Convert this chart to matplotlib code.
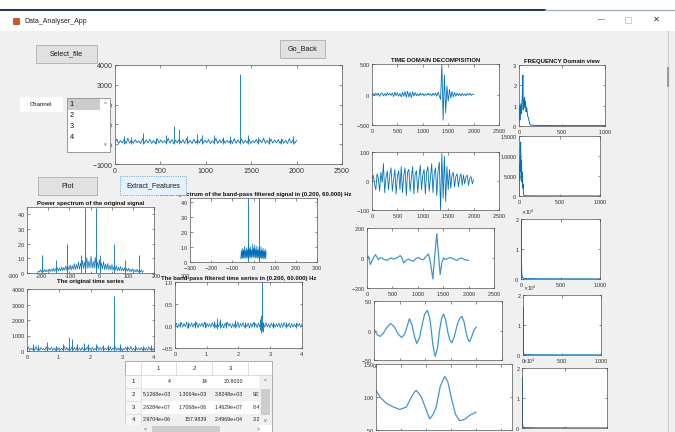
import numpy as np
import matplotlib
matplotlib.use('Agg')
import matplotlib.pyplot as plt
from matplotlib.patches import Rectangle

W, H = 675, 432
BLUE = '#0072BD'
LIGHT = '#3f97d1'

# ---------------- data ----------------
# channel 1 raw signal (2000 samples, 500 Hz): noise band edges every 40 samples + spikes
raw_low = [60, 40, 70, 30, 55, 45, 80, 35, 50, 65, 40, 30, 60, 75, 45, 50, 35, 70, 55, 40,
           65, 30, 50, 60, 45, 70, 35, 55, 40, 60, 50, 75, 30, 45, 65, 40, 55, 35, 60, 50,
           70, 45, 30, 55, 65, 40, 50, 35, 60, 45]
raw_high = [260, 180, 240, 300, 200, 230, 170, 280, 210, 250, 190, 270, 220, 180, 300, 240, 200, 260, 230, 280,
            190, 250, 210, 270, 200, 240, 180, 300, 220, 260, 190, 230, 280, 210, 250, 200, 270, 180, 240, 220,
            300, 190, 260, 210, 230, 250, 200, 280, 220, 190]
raw_spike_idx = [95, 180, 310, 455, 560, 655, 705, 790, 905, 960, 1085, 1190, 1270, 1375, 1460, 1580, 1700, 1830, 1955]
raw_spike_val = [420, 380, 560, 330, 450, 920, 760, 420, 520, 480, 450, 380, 400, 3550, 460, 350, 380, 330, 410]
fs_hz = 500

# power spectrum of the original signal, -250..250 Hz
spec_high = [1.5, 2.2, 1.8, 2.5, 2.0, 2.8, 2.4, 3.2, 2.9, 3.6, 3.3, 4.2, 3.8, 4.8, 4.4, 5.6, 5.0, 6.4, 5.8, 7.5,
             6.6, 8.6, 7.4, 10.5, 8.2, 11.5, 8.0, 10.8, 7.6, 9.0, 6.8, 7.8, 6.0, 6.6, 5.2, 5.8, 4.5, 5.0, 4.0, 4.4,
             3.4, 3.7, 3.0, 3.3, 2.5, 2.9, 2.1, 2.6, 1.9, 2.3, 1.5]
spec_low = [0.3, 0.6, 0.5, 0.8, 0.7, 1.0, 0.9, 1.2, 1.1, 1.4, 1.3, 1.6, 1.5, 1.9, 1.7, 2.1, 2.0, 2.4, 2.2, 2.7,
            2.5, 3.0, 2.8, 3.3, 3.0, 3.5, 3.1, 3.3, 2.8, 3.0, 2.6, 2.7, 2.3, 2.4, 2.0, 2.1, 1.8, 1.9, 1.5, 1.6,
            1.3, 1.4, 1.1, 1.2, 0.9, 1.0, 0.7, 0.8, 0.5, 0.6, 0.3]
spec_spike_f = [-227, -165, -111, -43, -25, 25, 43, 111, 165, 227]
spec_spike_p = [12, 9, 20, 12, 44, 44, 12, 20, 9, 12]

# power spectrum of the band-pass filtered signal, -60..60 Hz
bps_high = [7.5, 9.0, 8.2, 10.5, 7.8, 9.6, 8.4, 11.8, 9.0, 10.2, 8.0, 12.2, 9.4, 11.5, 8.6, 10.8, 8.2, 9.8,
            7.6, 10.4, 8.0, 9.2, 7.4, 8.8, 7.0]
bps_low = [2.0, 2.6, 2.2, 2.8, 2.4, 3.0, 2.5, 3.2, 2.7, 3.1, 2.6, 3.4, 2.9, 3.3, 2.7, 3.0, 2.5, 3.1,
           2.4, 2.9, 2.3, 2.7, 2.1, 2.5, 2.0]
bps_spike_f = [-25, 25]
bps_spike_p = [43, 43]

# band-pass filtered time series (0..4 s)
bpt_low = [-0.02, -0.04, -0.01, -0.03, -0.02, -0.05, -0.01, -0.03, -0.02, -0.04, -0.01, -0.03, -0.05, -0.02,
           -0.03, -0.01, -0.04, -0.02, -0.03, -0.05, -0.02, -0.01, -0.04, -0.03, -0.02, -0.04, -0.01, -0.03,
           -0.02, -0.05, -0.03, -0.01, -0.04, -0.02, -0.06, -0.03, -0.02, -0.04, -0.01, -0.03, -0.02, -0.04,
           -0.03, -0.01, -0.02, -0.04, -0.03, -0.02, -0.01, -0.03]
bpt_high = [0.07, 0.05, 0.08, 0.06, 0.09, 0.05, 0.07, 0.06, 0.08, 0.05, 0.07, 0.09, 0.06, 0.05, 0.08, 0.07,
            0.06, 0.09, 0.05, 0.07, 0.08, 0.06, 0.05, 0.07, 0.09, 0.06, 0.08, 0.05, 0.07, 0.06, 0.08, 0.05,
            0.07, 0.09, 0.06, 0.08, 0.05, 0.07, 0.06, 0.05, 0.07, 0.06, 0.08, 0.05, 0.07, 0.06, 0.05, 0.07,
            0.06, 0.05]
bpt_spike_t = [0.15, 0.42, 0.62, 0.95, 1.22, 1.33, 1.42, 1.62, 1.9, 2.2, 2.5, 2.68, 2.72, 2.75, 2.78, 3.1, 3.5, 3.8]
bpt_spike_hi = [0.1, 0.08, 0.12, 0.09, 0.11, 0.19, 0.15, 0.1, 0.13, 0.1, 0.09, 0.15, 0.26, 1.0, 0.1, 0.09, 0.08, 0.07]
bpt_spike_lo = [-0.03, -0.04, -0.05, -0.03, -0.04, -0.06, -0.05, -0.04, -0.05, -0.04, -0.03, -0.1, -0.16, -0.12,
                -0.14, -0.05, -0.04, -0.04]

# time domain decomposition levels (samples 0..2000)
d1_vals = [0, 15, -20, 25, -15, 20, -30, 10, 25, -20, 15, -25, 30, -10, 20, -15, 25, -35, 40, -20,
           30, -25, 15, -40, 35, -30, 50, -45, 55, -40, 35, -50, 45, -25, 30, -20, 15, -25, 20, -10,
           15, -20, 10, -15, 20, -10, 15, -25, 20, -15, 25, -30, 40, -20, -80, 500, -420, 320, -300, 140,
           -110, 80, -60, 50, -40, 35, -30, 25, -20, 15, -25, 20, -15, 10, -20, 15, -10, 20, -15, 10, 0]
d2_vals = [0, 20, -10, -30, 25, 10, -35, 30, -5, 60, -40, 10, 35, -30, 20, 45, -35, 5, 40, -45,
           15, 35, -30, 50, -40, 20, 45, -50, 30, 40, -35, 10, 50, -45, 25, 35, -40, 15, 55, -30,
           20, 40, -45, 30, 50, -35, 10, 60, -40, 25, 45, -50, 35, 65, -100, 95, -60, 85, -70, 50,
           -30, 40, -25, 20, 30, -20, 15, 25, -20, 10, 25, -15, 20, -10, 15, 20, -15, 10, 15, -10, 5]
d3_t = [0, 30, 65, 110, 164, 200, 229, 260, 295, 340, 393, 440, 480, 524, 570, 610, 654, 690, 720, 770,
        818, 860, 916, 960, 1014, 1060, 1113, 1160, 1211, 1250, 1296, 1335, 1374, 1405, 1440, 1475, 1505,
        1540, 1571, 1620, 1669, 1720, 1767, 1815, 1865, 1930, 1996]
d3_v = [5, 12, -44, -10, 22, 5, -11, 2, 0, -10, -16, -5, 0, -7, -2, 6, 16, 0, -33, -15,
        -7, -15, -22, -5, 4, -8, -11, 10, 27, -30, -140, 20, 162, 30, -111, -30, 0,
        -10, -7, 2, 0, -8, -16, -5, 0, -12, -16]
d4_t = [0, 60, 117, 180, 250, 326, 400, 470, 542, 600, 650, 692, 740, 790, 836, 890, 940, 990, 1044, 1090,
        1120, 1150, 1195, 1240, 1280, 1320, 1358, 1400, 1440, 1480, 1521, 1570, 1620, 1670, 1717, 1760,
        1800, 1835, 1867, 1910, 1950, 1997]
d4_v = [2, -7, -10, -5, 5, 12, 6, -6, -12, -6, 8, 20, 10, -10, -22, -12, 10, 28, 34, 20,
        0, -25, -44, -30, 0, 20, 28, 18, -2, -16, -21, -10, 8, 20, 24, 14,
        -4, -15, -19, -10, 0, 6]
d5_t = [0, 80, 212, 344, 477, 609, 709, 775, 808, 907, 1007, 1073, 1139, 1205, 1285, 1371, 1437, 1503,
        1589, 1669, 1768, 1868, 2000]
d5_v = [110, 100, 90, 85, 81, 85, 100, 108, 110, 100, 80, 67, 73, 85, 116, 131, 123, 100,
        74, 64, 66, 72, 77]

# frequency domain views
f1_f = [0, 8, 15, 22, 30, 38, 45, 50, 55, 60, 65, 70, 75, 82, 90, 100, 110, 120, 130, 150, 200, 400, 600, 800, 1000]
f1_a = [0.2, 1.0, 0.3, 1.1, 0.6, 1.5, 2.5, 0.8, 1.3, 1.0, 1.4, 0.9, 1.2, 0.7, 0.9, 0.5, 0.4, 0.2, 0.05, 0.04,
        0.03, 0.02, 0.02, 0.02, 0.02]
f2_f = [0, 5, 10, 15, 20, 25, 30, 35, 40, 45, 50, 55, 60, 80, 150, 300, 500, 700, 1000]
f2_a = [500, 8000, 4000, 12000, 13500, 6000, 9000, 3500, 6000, 2000, 3000, 600, 150, 60, 40, 30, 20, 20, 20]
f3_f = [0, 3, 6, 10, 20, 50, 200, 500, 1000]
f3_a = [0, 20000, 6000, 1500, 400, 150, 80, 50, 40]
f4_f = [0, 1, 3, 6, 12, 30, 200, 1000]
f4_a = [0, 16000, 2500, 900, 300, 120, 60, 40]
f5_f = [0, 0.5, 3, 6, 12, 30, 200, 1000]
f5_a = [0, 17000, 2000, 1400, 300, 150, 60, 40]

# feature table
table_cols = ['1', '2', '3', '4']
table_rows = ['1', '2', '3', '4']
table_cells = [['4', '14', '30.8000', ''],
               ['5.1268e+03', '1.3064e+03', '3.8248e+03', '921.5000'],
               ['2.6284e+07', '1.7068e+06', '1.4629e+07', '8.4966e+06'],
               ['2.9704e+06', '157.9839', '2.4969e+04', '3.2421e+04']]
channels = ['1', '2', '3', '4']

# ---------------- figure ----------------
plt.rcParams['font.family'] = ['Liberation Sans', 'DejaVu Sans']
plt.rcParams['axes.unicode_minus'] = False
plt.rcParams['axes.formatter.use_mathtext'] = True

fig = plt.figure(figsize=(W / 100, H / 100), dpi=100, facecolor='#f0f0f0')

bg = fig.add_axes([0, 0, 1, 1], zorder=-10)
bg.set_xlim(0, W)
bg.set_ylim(H, 0)
bg.axis('off')
bg.add_patch(Rectangle((0, 0), W, 31, fc='white', ec='none'))
bg.plot([0, 545], [10, 10], color='#1d3557', lw=1.4)
bg.plot([545, 675], [10, 10], color='#9fb0c2', lw=1.0)


def px_axes(x0, y0, x1, y1):
    ax = fig.add_axes([x0 / W, 1 - y1 / H, (x1 - x0) / W, (y1 - y0) / H])
    ax.tick_params(direction='in', top=True, right=True, length=1.8, width=0.4,
                   labelsize=4, pad=1.2, colors='#333333')
    for s in ax.spines.values():
        s.set_linewidth(0.5)
        s.set_color('#555555')
    return ax


def band(ax, x0, x1, low, high, color=BLUE, lw=0.5):
    xs = np.linspace(x0, x1, 2 * len(low))
    ys = np.column_stack([low, high]).ravel()
    ax.plot(xs, ys, color=color, lw=lw)


def title(ax, text, fs=4.3, pad=1.5):
    ax.set_title(text, fontsize=fs, fontweight='bold', pad=pad, color='#111111')


# main channel plot
ax = px_axes(115, 65, 342, 164)
band(ax, 0, 2000, raw_low, raw_high, lw=0.6)
ax.vlines(raw_spike_idx, 0, raw_spike_val, color=BLUE, lw=0.6)
ax.set_xlim(0, 2500)
ax.set_ylim(-1000, 4000)
ax.set_xticks(range(0, 2501, 500))
ax.set_yticks(range(-1000, 4001, 1000))
ax.tick_params(labelsize=5, length=2.5, pad=1.5)

# power spectrum of the original signal
ax = px_axes(27, 207, 154, 273)
band(ax, -250, 250, spec_low, spec_high)
ax.plot([-250, 250], [0.2, 0.2], color=BLUE, lw=0.5)
ax.vlines(spec_spike_f, 0, spec_spike_p, color=BLUE, lw=0.6)
ax.set_xlim(-300, 300)
ax.set_ylim(0, 45)
ax.set_yticks(range(0, 41, 10))
ax.set_xticks(range(-300, 301, 100))
ax.set_xticklabels([])
title(ax, 'Power spectrum of the original signal')

# power spectrum of the band-pass filtered signal
ax = px_axes(190, 198, 317, 262)
band(ax, -60, 60, bps_low, bps_high)
ax.plot([-250, 250], [0.15, 0.15], color=BLUE, lw=0.4, alpha=0.6)
ax.vlines(bps_spike_f, 0, bps_spike_p, color=BLUE, lw=0.6)
ax.set_xlim(-300, 300)
ax.set_ylim(0, 43)
ax.set_yticks(range(0, 41, 10))
ax.set_xticks(range(-300, 301, 100))
title(ax, 'Power spectrum of the band-pass filtered signal in (0.200, 60.000) Hz')

# original time series
ax = px_axes(27, 289, 154, 351)
band(ax, 0, 2000 / fs_hz, raw_low, raw_high)
ax.vlines(np.array(raw_spike_idx) / fs_hz, 0, raw_spike_val, color=BLUE, lw=0.6)
ax.set_xlim(0, 4)
ax.set_ylim(0, 4000)
ax.set_yticks(range(0, 4001, 1000))
title(ax, 'The original time series', pad=4.5)

# band-pass filtered time series
ax = px_axes(175, 282, 302, 348)
band(ax, 0, 4, bpt_low, bpt_high)
ax.vlines(bpt_spike_t, bpt_spike_lo, bpt_spike_hi, color=BLUE, lw=0.6)
ax.set_xlim(0, 4)
ax.set_ylim(-0.5, 1)
ax.set_yticks([-0.5, 0, 0.5, 1])
title(ax, 'The band-pass filtered time series in (0.200, 60.000) Hz')

# time domain decomposition
d_boxes = [(372, 64, 499, 125), (372, 152, 499, 210), (367, 228, 494, 288),
           (374, 301, 502, 360), (376, 364, 512, 430)]
d_series = [(np.linspace(0, 2000, len(d1_vals)), d1_vals), (np.linspace(0, 2000, len(d2_vals)), d2_vals),
            (d3_t, d3_v), (d4_t, d4_v), (d5_t, d5_v)]
d_ylims = [(-500, 500), (-100, 100), (-200, 200), (-50, 50), (50, 150)]
d_xmax = [2500, 2500, 2500, 2500, 2720]
for i, (box, (t, v), yl, xm) in enumerate(zip(d_boxes, d_series, d_ylims, d_xmax)):
    ax = px_axes(*box)
    ax.plot(t, v, color=BLUE if i < 2 else LIGHT, lw=0.6 if i < 2 else 0.9)
    ax.set_xlim(0, xm)
    ax.set_ylim(*yl)
    ax.set_xticks(range(0, 2501, 500))
    ax.set_yticks([yl[0], (yl[0] + yl[1]) / 2, yl[1]])
    if i == 0:
        title(ax, 'TIME DOMAIN DECOMPISITION')

# frequency domain views
f_boxes = [(519, 65, 605, 126), (519, 136, 600, 196), (521, 219, 600, 279),
           (523, 295, 601, 355), (522, 368, 607, 428)]
f_series = [(f1_f, f1_a), (f2_f, f2_a), (f3_f, f3_a), (f4_f, f4_a), (f5_f, f5_a)]
f_ylims = [3, 15000, 20000, 20000, 20000]
for i, (box, (f, a), ym) in enumerate(zip(f_boxes, f_series, f_ylims)):
    ax = px_axes(*box)
    ax.plot(f, a, color=BLUE, lw=0.7)
    ax.set_xlim(0, 1000)
    ax.set_ylim(0, ym)
    ax.set_xticks([0, 500, 1000])
    if i == 0:
        ax.set_yticks([0, 1, 2, 3])
        title(ax, 'FREQUENCY Domain view')
    elif i == 1:
        ax.set_yticks([0, 5000, 10000, 15000])
    else:
        ax.set_yticks([0, 10000, 20000])
        ax.ticklabel_format(axis='y', style='sci', scilimits=(0, 0))
        ax.yaxis.get_offset_text().set_fontsize(3.6)

# ---------------- GUI controls on top ----------------
ov = fig.add_axes([0, 0, 1, 1], zorder=10)
ov.set_xlim(0, W)
ov.set_ylim(H, 0)
ov.axis('off')
ov.patch.set_alpha(0)


def button(x0, y0, x1, y1, label, fc='#e1e1e1', ec='#adadad', ls='-', fs=5.2):
    ov.add_patch(Rectangle((x0, y0), x1 - x0, y1 - y0, fc=fc, ec=ec, lw=0.6, ls=ls))
    ov.text((x0 + x1) / 2, (y0 + y1) / 2, label, ha='center', va='center', fontsize=fs, color='#1a1a1a')


# window title bar
ov.add_patch(Rectangle((13, 18), 6, 6, fc='#d95319', ec='#8a2b0a', lw=0.4))
ov.text(24, 21.5, 'Data_Analyser_App', fontsize=5, va='center', color='#222222')
ov.text(602, 20, '\u2014', fontsize=5, ha='center', va='center', color='#444444')
ov.add_patch(Rectangle((625, 17), 6, 6, fc='none', ec='#bbbbbb', lw=0.5))
ov.text(656, 20, '\u2715', fontsize=6, ha='center', va='center', color='#333333')
ov.plot([668, 668], [31, 432], color='#cfcfcf', lw=1.0)
ov.plot([668, 668], [68, 86], color='#8c8c8c', lw=1.2)

button(36, 45, 97, 63, 'Select_file')
button(280, 40, 325, 58, 'Go_Back')
button(38, 177, 97, 195, 'Plot')
button(120, 176, 186, 195, 'Extract_Features', fc='#e5f1fb', ec='#3c8fd6', ls=':', fs=5)

# channel selector
ov.add_patch(Rectangle((20, 97), 43, 15, fc='white', ec='none'))
ov.text(41.5, 104.5, 'Channel', fontsize=4.3, ha='center', va='center', color='#111111')
ov.add_patch(Rectangle((67, 98), 43, 54, fc='white', ec='#8a8a8a', lw=0.6))
ov.add_patch(Rectangle((68, 99), 32, 10.5, fc='#cccccc', ec='none'))
for k, ch in enumerate(channels):
    ov.text(69.5, 104.3 + 11 * k, ch, fontsize=5.3, va='center', color='#111111')
ov.text(105, 104.5, '^', fontsize=4.5, ha='center', va='center', color='#555555')
ov.text(105, 145, 'v', fontsize=4, ha='center', va='center', color='#555555')

# misplaced tick labels of the original power spectrum (as rendered in the app)
for k, lab in enumerate(['-300', '-200', '-100', '0', '100', '200', '300']):
    ov.text(13 + 28.75 * k, 277, lab, fontsize=4, ha='center', va='center', color='#333333', zorder=1)

# feature table
col_edges = [125, 141, 176, 212, 248, 259]
row_edges = [361, 375, 388, 401, 414, 425]
ov.add_patch(Rectangle((125, 361), 147, 71, fc='white', ec='#a0a0a0', lw=0.6))
for r in range(4):
    shade = 'white' if r % 2 == 0 else '#f0f0f0'
    ov.add_patch(Rectangle((141, row_edges[r + 1]), 118, row_edges[r + 2] - row_edges[r + 1],
                           fc=shade, ec='none'))
    ov.add_patch(Rectangle((125, row_edges[r + 1]), 16, row_edges[r + 2] - row_edges[r + 1],
                           fc='#f7f7f7', ec='#d5d5d5', lw=0.4))
    ov.text(133, (row_edges[r + 1] + row_edges[r + 2]) / 2, table_rows[r], fontsize=4.3,
            ha='center', va='center', color='#222222')
col4_clip = Rectangle((248, 361), 11, 71, transform=ov.transData)
for c in range(4):
    x0, x1 = col_edges[c + 1], col_edges[c + 2]
    ov.plot([x0] * 2, [361, 375], color='#d0d0d0', lw=0.5)
    if c < 3:
        ov.text((x0 + x1) / 2, 368, table_cols[c], fontsize=4.3, ha='center', va='center', color='#222222')
    for r in range(4):
        cy = (row_edges[r + 1] + row_edges[r + 2]) / 2
        if c < 3:
            ov.text(x1 - 5, cy, table_cells[r][c], fontsize=3.8, ha='right', va='center', color='#222222')
        else:
            t = ov.text(x0 + 5, cy, table_cells[r][c], fontsize=3.8, ha='left', va='center',
                        color='#222222', clip_on=True)
            t.set_clip_path(col4_clip)
ov.plot([125, 272], [375, 375], color='#d0d0d0', lw=0.5)
# scroll bars
ov.add_patch(Rectangle((259, 375), 13, 50, fc='#f0f0f0', ec='none'))
ov.add_patch(Rectangle((261, 389), 9, 26, fc='#cdcdcd', ec='none'))
ov.text(265.5, 381.5, '^', fontsize=4.5, ha='center', va='center', color='#555555')
ov.text(265.5, 420, 'v', fontsize=4, ha='center', va='center', color='#555555')
ov.add_patch(Rectangle((125, 425), 134, 7, fc='#f0f0f0', ec='none'))
ov.add_patch(Rectangle((152, 425.5), 68, 6, fc='#cdcdcd', ec='none'))
ov.text(145, 428.5, '<', fontsize=4, ha='center', va='center', color='#555555')
ov.text(258, 428.5, '>', fontsize=4, ha='center', va='center', color='#555555')

fig.savefig('out.png', dpi=100, facecolor=fig.get_facecolor())
